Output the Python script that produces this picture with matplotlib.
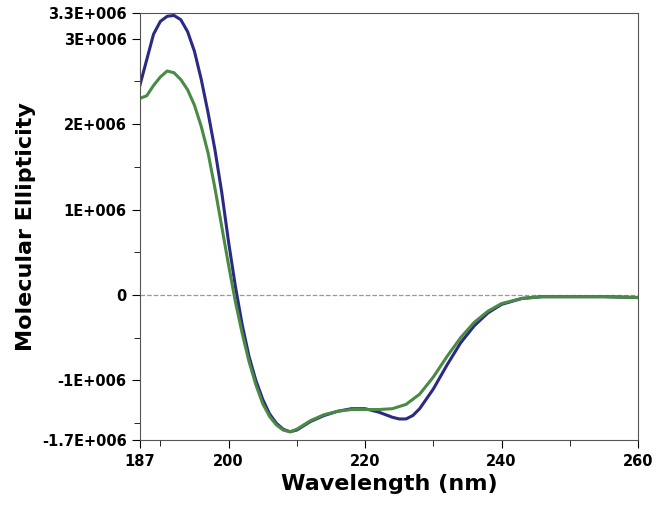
import matplotlib
matplotlib.use("Agg")
import matplotlib.pyplot as plt
from matplotlib.ticker import FixedLocator

wl_blue = [187,188,189,190,191,192,193,194,195,196,197,198,199,200,201,202,203,204,205,206,207,208,209,210,211,212,214,216,218,220,222,224,225,226,227,228,230,232,234,236,238,240,243,246,250,255,260]
blue = [2.45,2.75,3.05,3.2,3.26,3.27,3.22,3.08,2.85,2.52,2.13,1.7,1.2,0.62,0.1,-0.35,-0.72,-1.0,-1.22,-1.39,-1.5,-1.57,-1.6,-1.58,-1.53,-1.48,-1.41,-1.36,-1.33,-1.33,-1.37,-1.43,-1.45,-1.45,-1.41,-1.33,-1.1,-0.82,-0.56,-0.36,-0.21,-0.11,-0.04,-0.02,-0.02,-0.02,-0.03]
wl_green = [187,188,189,190,191,192,193,194,195,196,197,198,199,200,201,202,203,204,205,206,207,208,209,210,211,212,214,216,218,220,222,224,226,228,230,232,234,236,238,240,243,246,250,255,260]
green = [2.3,2.33,2.45,2.55,2.62,2.6,2.52,2.4,2.22,1.97,1.66,1.25,0.8,0.35,-0.08,-0.45,-0.78,-1.05,-1.27,-1.42,-1.52,-1.58,-1.6,-1.57,-1.52,-1.47,-1.4,-1.36,-1.34,-1.34,-1.34,-1.33,-1.28,-1.16,-0.96,-0.72,-0.5,-0.32,-0.19,-0.1,-0.04,-0.02,-0.02,-0.02,-0.03]
xticks = [187,200,220,240,260]
yticks = [3.3,3,2,1,0,-1,-1.7]
ylabels = ["3.3E+006","3E+006","2E+006","1E+006","0","-1E+006","-1.7E+006"]

fig = plt.figure(figsize=(6.66,5.15), dpi=100)
ax = fig.add_axes([0.21, 0.145, 0.748, 0.83])
ax.axhline(0, color='#999999', ls='--', lw=0.9)
ax.plot(wl_blue, blue, color='#2a2a85', lw=2.2)
ax.plot(wl_green, green, color='#4a8a45', lw=2.2)
ax.set_xlim(187,260); ax.set_ylim(-1.7,3.3)
ax.set_xticks(xticks); ax.set_xticklabels([str(v) for v in xticks])
ax.xaxis.set_minor_locator(FixedLocator([190,210,230,250]))
ax.set_yticks(yticks); ax.set_yticklabels(ylabels)
ax.yaxis.set_minor_locator(FixedLocator([2.5,1.5,0.5,-0.5,-1.5]))
for lab in ax.get_xticklabels()+ax.get_yticklabels():
    lab.set_fontweight('bold'); lab.set_fontsize(10.5)
ax.tick_params(which='major', length=6)
ax.tick_params(which='minor', length=4)
ax.set_xlabel("Wavelength (nm)", fontsize=16, fontweight='bold')
ax.set_ylabel("Molecular Ellipticity", fontsize=16, fontweight='bold')
for s in ax.spines.values(): s.set_color('#555555')
fig.savefig("out.png", dpi=100)
